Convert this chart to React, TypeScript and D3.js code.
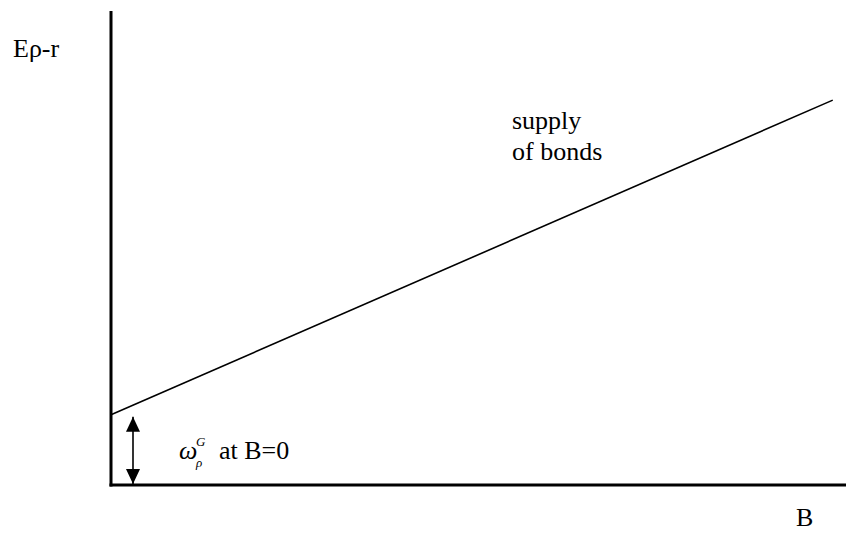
import React from "react";
import * as d3 from "d3";

const W = 846;
const H = 533;

// Supply of bonds line: B values and Eρ-r values
const supplyB = [0, 9.82];
const supplyY = [1.48, 8.12];
const interceptY = [0, 1.48];
const axisLabels = { y: "Eρ-r", x: "B" };
const curveLabel = ["supply", "of bonds"];

export default function App() {
  const x = d3.scaleLinear().domain([0, 10]).range([111, 846]);
  const y = d3.scaleLinear().domain([0, 10]).range([485, 11]);
  const pts: [number, number][] = supplyB.map((b, i) => [b, supplyY[i]]);
  const line = d3
    .line<[number, number]>()
    .x((d) => x(d[0]))
    .y((d) => y(d[1]));
  const font = '"Liberation Serif", "Times New Roman", "DejaVu Serif", serif';
  const ax = 133;
  const ay0 = y(interceptY[1]) + 2;
  const ay1 = y(interceptY[0]) - 1;
  return (
    <svg
      width={W}
      height={H}
      style={{ position: "absolute", left: 0, top: 0, background: "#fff", fontFamily: font }}
    >
      <defs>
        <marker id="ah" viewBox="0 0 10 10" refX="10" refY="5" markerWidth="15" markerHeight="14" markerUnits="userSpaceOnUse" orient="auto-start-reverse" preserveAspectRatio="none">
          <path d="M0,0 L10,5 L0,10 z" fill="#000" />
        </marker>
      </defs>
      {/* axes */}
      <line x1={x(0)} y1={y(10)} x2={x(0)} y2={y(0) + 1.5} stroke="#000" strokeWidth={3} />
      <line x1={x(0) - 1.5} y1={y(0)} x2={x(10)} y2={y(0)} stroke="#000" strokeWidth={3} />
      {/* supply line */}
      <path d={line(pts) || ""} stroke="#000" strokeWidth={1.6} fill="none" />
      {/* arrow */}
      <line x1={ax} y1={ay0} x2={ax} y2={ay1} stroke="#000" strokeWidth={1.6} markerStart="url(#ah)" markerEnd="url(#ah)" />
      {/* labels */}
      <text x={13} y={57} style={{ fontSize: 26, fontFamily: font }}>{axisLabels.y}</text>
      <text x={796} y={526} style={{ fontSize: 26, fontFamily: font }}>{axisLabels.x}</text>
      <text x={512} y={129} style={{ fontSize: 26, fontFamily: font }}>{curveLabel[0]}</text>
      <text x={512} y={160} style={{ fontSize: 26, fontFamily: font }}>{curveLabel[1]}</text>
      <text x={179} y={459} style={{ fontSize: 26, fontFamily: font, fontStyle: "italic" }}>ω</text>
      <text x={196} y={446} style={{ fontSize: 13, fontFamily: font, fontStyle: "italic" }}>G</text>
      <text x={196} y={467} style={{ fontSize: 13, fontFamily: font, fontStyle: "italic" }}>ρ</text>
      <text x={219} y={459} style={{ fontSize: 26, fontFamily: font }}>at B=0</text>
    </svg>
  );
}
